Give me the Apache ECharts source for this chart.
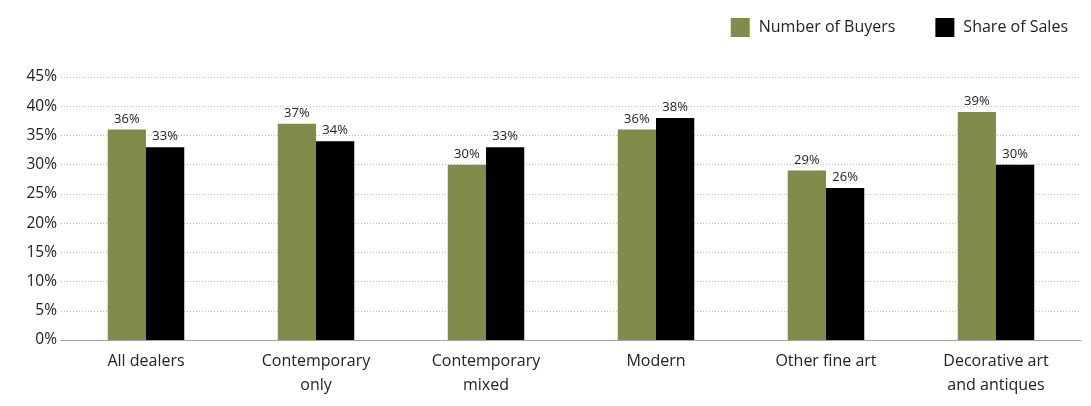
<!DOCTYPE html>
<html>
<head>
<meta charset="utf-8">
<script src="https://cdn.jsdelivr.net/npm/echarts@6/dist/echarts.min.js"></script>
<style>html,body{margin:0;padding:0;background:#fff}#c{width:1091px;height:406px}</style>
</head>
<body>
<div id="c"></div>
<script>
const categories = ['All dealers', 'Contemporary\nonly', 'Contemporary\nmixed', 'Modern', 'Other fine art', 'Decorative art\nand antiques'];
const numberOfBuyers = [36, 37, 30, 36, 29, 39];
const shareOfSales = [33, 34, 33, 38, 26, 30];
const yTicks = [0, 5, 10, 15, 20, 25, 30, 35, 40, 45];

const font = '"Open Sans", "Noto Sans", sans-serif';
const chart = echarts.init(document.getElementById('c'));
chart.setOption({
  animation: false,
  textStyle: { fontFamily: font },
  legend: {
    top: 13, right: 18,
    itemWidth: 19, itemHeight: 19, itemGap: 40,
    icon: 'rect',
    textStyle: { fontSize: 16, color: '#222', fontFamily: font, padding: [0, 0, 0, 4] },
    data: ['Number of Buyers', 'Share of Sales']
  },
  grid: { left: 61, right: 10, top: 77, bottom: 66, containLabel: false },
  xAxis: {
    type: 'category', data: categories,
    axisLine: { lineStyle: { color: '#a6a6a6', width: 1 } },
    axisTick: { show: false },
    axisLabel: { color: '#222', fontSize: 16, lineHeight: 24, margin: 9, fontFamily: font, interval: 0 }
  },
  yAxis: {
    type: 'value', min: yTicks[0], max: yTicks[yTicks.length - 1], interval: 5,
    axisLine: { show: false }, axisTick: { show: false },
    axisLabel: { color: '#222', fontSize: 15.5, margin: 4, fontFamily: font, formatter: v => v + '%' },
    splitLine: { lineStyle: { color: '#bdbdbd', type: [1, 2], width: 1 } }
  },
  series: [
    {
      name: 'Number of Buyers', type: 'bar', data: numberOfBuyers,
      itemStyle: { color: '#7F8C4A' }, barGap: '0%', barCategoryGap: '55%',
      label: { show: true, position: 'top', distance: 4, fontSize: 13, color: '#222', fontFamily: font, formatter: p => p.value + '%' }
    },
    {
      name: 'Share of Sales', type: 'bar', data: shareOfSales,
      itemStyle: { color: '#000000' }, barGap: '0%', barCategoryGap: '55%',
      label: { show: true, position: 'top', distance: 4, fontSize: 13, color: '#222', fontFamily: font, formatter: p => p.value + '%' }
    }
  ]
});
</script>
</body>
</html>
